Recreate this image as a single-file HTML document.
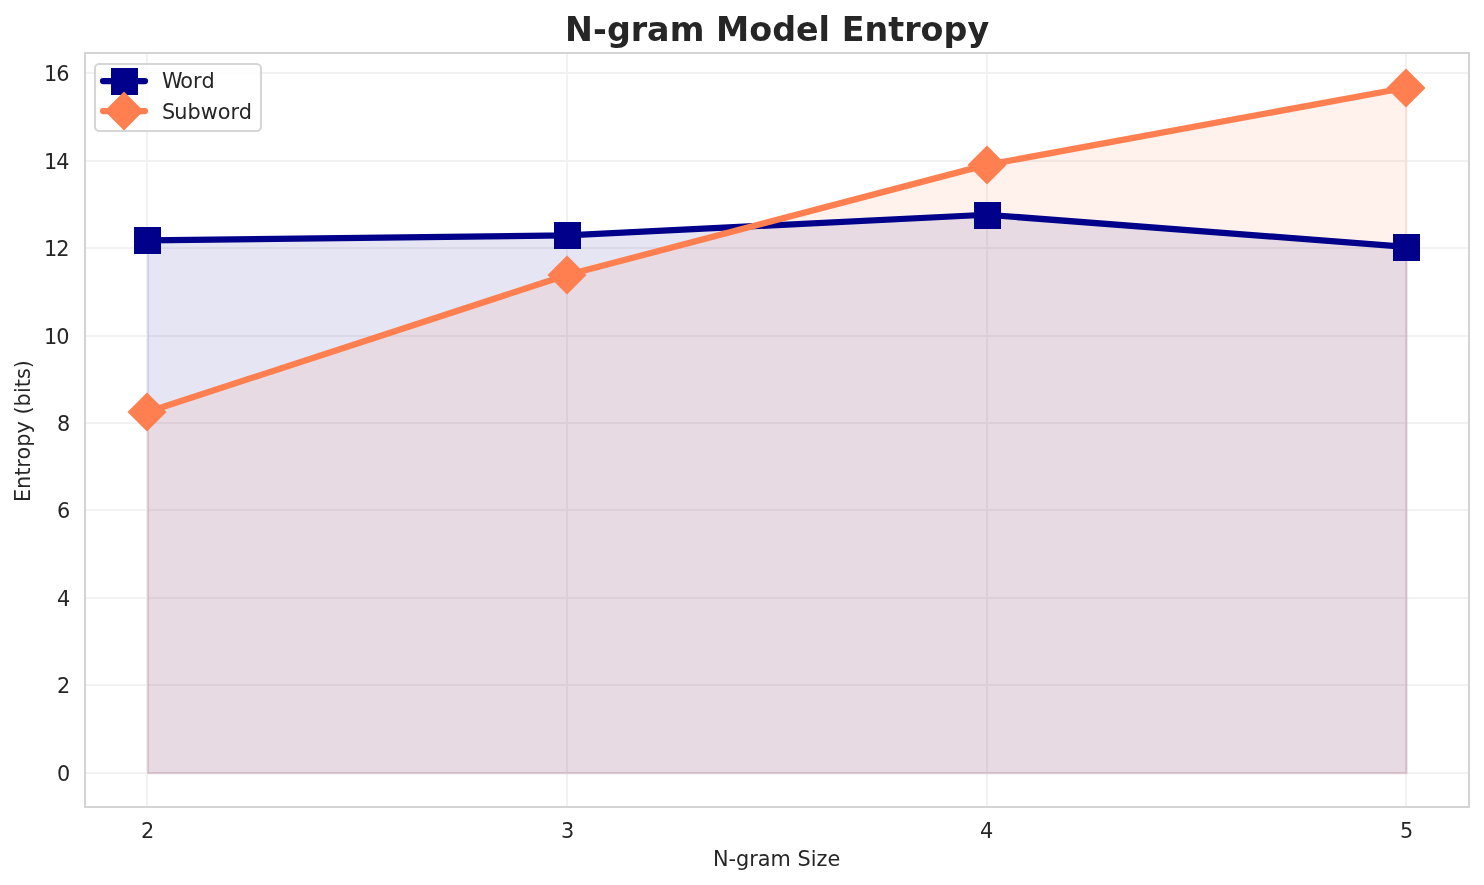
<!DOCTYPE html>
<html lang="en">
<head>
<meta charset="utf-8">
<title>N-gram Model Entropy</title>
<style>
html,body{margin:0;padding:0;background:#ffffff;}
body{width:1484px;height:885px;overflow:hidden;}
svg{display:block;}
text{font-family:"DejaVu Sans","Liberation Sans",sans-serif;fill:#262626;font-size:20.8333px;}
.title{font-size:33.3333px;font-weight:bold;}
.grid rect{fill:#f2f2f2;}
.spine rect{fill:#d4d4d4;}
</style>
</head>
<body>
<svg width="1484" height="885" viewBox="0 0 1484 885">
<rect x="0" y="0" width="1484" height="885" fill="#ffffff"/>
<g class="grid">
<rect x="146" y="54" width="2" height="752"/>
<rect x="566" y="54" width="2" height="752"/>
<rect x="986" y="54" width="2" height="752"/>
<rect x="1405" y="54" width="2" height="752"/>
<rect x="86" y="72" width="1382" height="2"/>
<rect x="86" y="160" width="1382" height="2"/>
<rect x="86" y="247" width="1382" height="2"/>
<rect x="86" y="335" width="1382" height="2"/>
<rect x="86" y="422" width="1382" height="2"/>
<rect x="86" y="509" width="1382" height="2"/>
<rect x="86" y="597" width="1382" height="2"/>
<rect x="86" y="684" width="1382" height="2"/>
<rect x="86" y="772" width="1382" height="2"/>
</g>
<g transform="translate(0.5,0.45)">
<polygon points="147.47,772.83 147.47,240.39 567.00,235.40 986.54,214.75 1406.07,246.82 1406.07,772.83" fill="#00008b" fill-opacity="0.1" stroke="#00008b" stroke-opacity="0.1" stroke-width="2.083" stroke-linejoin="miter"/>
<polygon points="147.47,772.83 147.47,411.99 567.00,275.05 986.54,164.89 1406.07,87.75 1406.07,772.83" fill="#ff7f50" fill-opacity="0.1" stroke="#ff7f50" stroke-opacity="0.1" stroke-width="2.083" stroke-linejoin="miter"/>
</g>
<polyline points="147.47,240.39 567.00,235.40 986.54,214.75 1406.07,246.82" fill="none" stroke="#00008b" stroke-width="6.25" stroke-linecap="round" stroke-linejoin="round"/>
<rect x="134" y="227" width="27" height="27" fill="#00008b"/>
<rect x="554" y="222" width="27" height="27" fill="#00008b"/>
<rect x="974" y="202" width="27" height="27" fill="#00008b"/>
<rect x="1393" y="234" width="27" height="27" fill="#00008b"/>
<polyline points="147.47,411.99 567.00,275.05 986.54,164.89 1406.07,87.75" fill="none" stroke="#ff7f50" stroke-width="6.25" stroke-linecap="round" stroke-linejoin="round"/>
<polygon points="147,392.5 166.5,412 147,431.5 127.5,412" fill="#ff7f50"/>
<polygon points="567,255.5 586.5,275 567,294.5 547.5,275" fill="#ff7f50"/>
<polygon points="987,145.5 1006.5,165 987,184.5 967.5,165" fill="#ff7f50"/>
<polygon points="1406,68.5 1425.5,88 1406,107.5 1386.5,88" fill="#ff7f50"/>
<g class="spine">
<rect x="84" y="52" width="1386" height="2"/>
<rect x="84" y="806" width="1386" height="2"/>
<rect x="84" y="52" width="2" height="756"/>
<rect x="1468" y="52" width="2" height="756"/>
</g>
<g class="legend">
<rect x="94.96" y="63.92" width="166" height="67.08" rx="4.17" ry="4.17" fill="#ffffff" fill-opacity="0.8" stroke="#cccccc" stroke-opacity="0.8" stroke-width="2.083"/>
<line x1="103.05" y1="81.0" x2="144.95" y2="81.0" stroke="#00008b" stroke-width="6.25" stroke-linecap="round"/>
<rect x="111" y="68" width="27" height="27" fill="#00008b"/>
<line x1="103.05" y1="111.0" x2="144.95" y2="111.0" stroke="#ff7f50" stroke-width="6.25" stroke-linecap="round"/>
<polygon points="124,91.5 143.5,111 124,130.5 104.5,111" fill="#ff7f50"/>
<text x="161.90 180.17 192.93 201.40" y="88.0">Word</text>
<text x="161.90 174.13 187.62 200.73 217.67 230.43 238.67" y="119.0">Subword</text>
</g>
<text class="title" x="564.96 592.97 607.05 630.66 646.97 669.83 704.57 715.91 749.33 772.22 796.08 818.44 830.11 841.71 864.47 888.21 904.14 920.58 943.47 967.46" y="41.0">N-gram Model Entropy</text>
<text x="712.94 728.52 736.04 749.26 757.82 770.58 790.87 797.49 810.71 816.49 827.43" y="866.0">N-gram Size</text>
<text transform="translate(30.0,431.1) rotate(-90)" x="-70.91 -58.01 -44.55 -36.77 -28.29 -15.54 -2.32 10.01 16.62 24.49 38.09 43.76 52.04 62.77">Entropy (bits)</text>
<text x="140.96" y="838.0">2</text>
<text x="560.99" y="838.0">3</text>
<text x="980.07" y="838.0">4</text>
<text x="1400.12" y="838.0">5</text>
<text x="57.03" y="781.0">0</text>
<text x="57.03" y="693.0">2</text>
<text x="57.03" y="606.0">4</text>
<text x="57.03" y="518.0">6</text>
<text x="57.03" y="431.0">8</text>
<text x="43.91 56.28" y="344.0">10</text>
<text x="43.91 56.28" y="256.0">12</text>
<text x="43.91 56.28" y="169.0">14</text>
<text x="43.91 56.28" y="81.0">16</text>
</svg>
</body>
</html>
